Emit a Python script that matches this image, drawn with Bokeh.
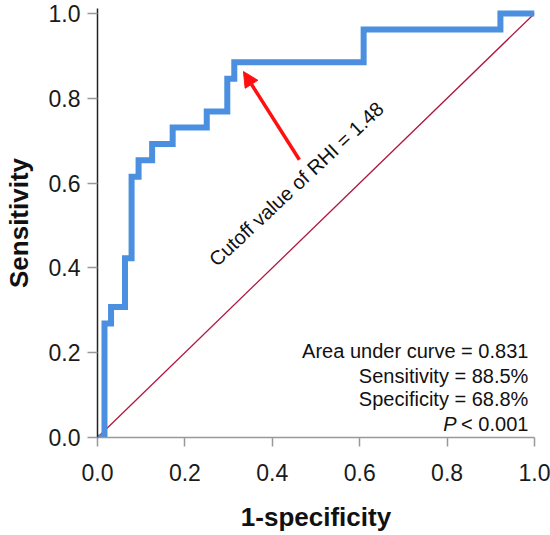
from bokeh.plotting import figure
from bokeh.models import Label, Arrow, NormalHead, FixedTicker
from bokeh.embed import file_html
from bokeh.resources import INLINE

# ROC points (1-specificity, sensitivity)
roc_fpr = [0.0, 0.016, 0.031, 0.063, 0.078, 0.094, 0.125, 0.172, 0.250, 0.297, 0.313, 0.609, 0.922, 1.0]
roc_tpr = [0.0, 0.269, 0.308, 0.423, 0.615, 0.654, 0.692, 0.731, 0.769, 0.846, 0.885, 0.962, 1.0, 1.0]
ticks = [0.0, 0.2, 0.4, 0.6, 0.8, 1.0]
cutoff_point = (0.313, 0.885)
stats_lines = ["Area under curve = 0.831", "Sensitivity = 88.5%", "Specificity = 68.8%"]
p_value_text = "< 0.001"
cutoff_text = "Cutoff value of RHI = 1.48"

FONT = "Liberation Sans"

# staircase path: at each point go up first, then across
xs, ys = [roc_fpr[0]], [roc_tpr[0]]
for i in range(1, len(roc_fpr)):
    xs.append(roc_fpr[i]); ys.append(ys[-1])
    xs.append(roc_fpr[i]); ys.append(roc_tpr[i])

p = figure(width=550, height=535, x_range=(0, 1), y_range=(0, 1.0118),
           output_backend="svg", toolbar_location=None,
           min_border_left=97, min_border_right=16, min_border_top=8, min_border_bottom=98)
p.outline_line_color = None
p.grid.visible = False
p.background_fill_color = "white"

# diagonal reference line
p.line([0, 1], [0, 1], line_color="#B0163C", line_width=1.3)
# ROC curve
p.line(xs, ys, line_color="#4A8FE0", line_width=6, line_join="miter", line_cap="butt")

# arrow to cutoff
p.add_layout(Arrow(x_start=0.462, y_start=0.655, x_end=cutoff_point[0] + 0.021, y_end=cutoff_point[1] - 0.022,
                   line_color="#FF1010", line_width=3.5,
                   end=NormalHead(size=15, fill_color="#FF1010", line_color="#FF1010")))
p.add_layout(Label(x=0.455, y=0.598, text=cutoff_text, angle=43, angle_units="deg",
                   text_align="center", text_baseline="middle",
                   text_font=FONT, text_font_size="20px", text_color="#111111"))

# stats text block
stat_y = [0.204, 0.146, 0.0905]
for t, yy in zip(stats_lines, stat_y):
    p.add_layout(Label(x=0.986, y=yy, text=t, text_align="right", text_baseline="middle",
                       text_font=FONT, text_font_size="20px", text_color="#111111"))
p.add_layout(Label(x=0.986, y=0.0325, text=p_value_text, text_align="right", text_baseline="middle",
                   text_font=FONT, text_font_size="20px", text_color="#111111"))
p.add_layout(Label(x=0.822, y=0.0325, text="P", text_align="right", text_baseline="middle",
                   text_font=FONT, text_font_size="20px", text_font_style="italic", text_color="#111111"))

for ax in (p.xaxis[0], p.yaxis[0]):
    ax.ticker = FixedTicker(ticks=ticks)
    ax.minor_tick_line_color = None
    ax.major_tick_in = 0
    ax.major_label_text_font = FONT
    ax.major_label_text_font_size = "23px"
    ax.major_label_text_color = "#1a1a1a"
    ax.axis_label_text_font = FONT
    ax.axis_label_text_font_size = "26px"
    ax.axis_label_text_font_style = "bold"
    ax.axis_label_text_color = "#111111"
    ax.major_tick_line_color = "#999999"
    ax.major_tick_line_width = 1.5

p.xaxis.axis_label = "1-specificity"
p.yaxis.axis_label = "Sensitivity"
p.xaxis.major_tick_out = 9
p.yaxis.major_tick_out = 10
p.xaxis.major_label_standoff = 17
p.yaxis.major_label_standoff = 7
p.xaxis.axis_label_standoff = 18
p.yaxis.axis_label_standoff = 12
p.xaxis.axis_line_color = "#999999"
p.xaxis.axis_line_width = 1.5
p.yaxis.axis_line_color = "#222222"
p.yaxis.axis_line_width = 1.5
p.xaxis.major_label_overrides = {t: f"{t:.1f}" for t in ticks}
p.yaxis.major_label_overrides = {t: f"{t:.1f}" for t in ticks}

open("out.html", "w").write(file_html(p, INLINE))
